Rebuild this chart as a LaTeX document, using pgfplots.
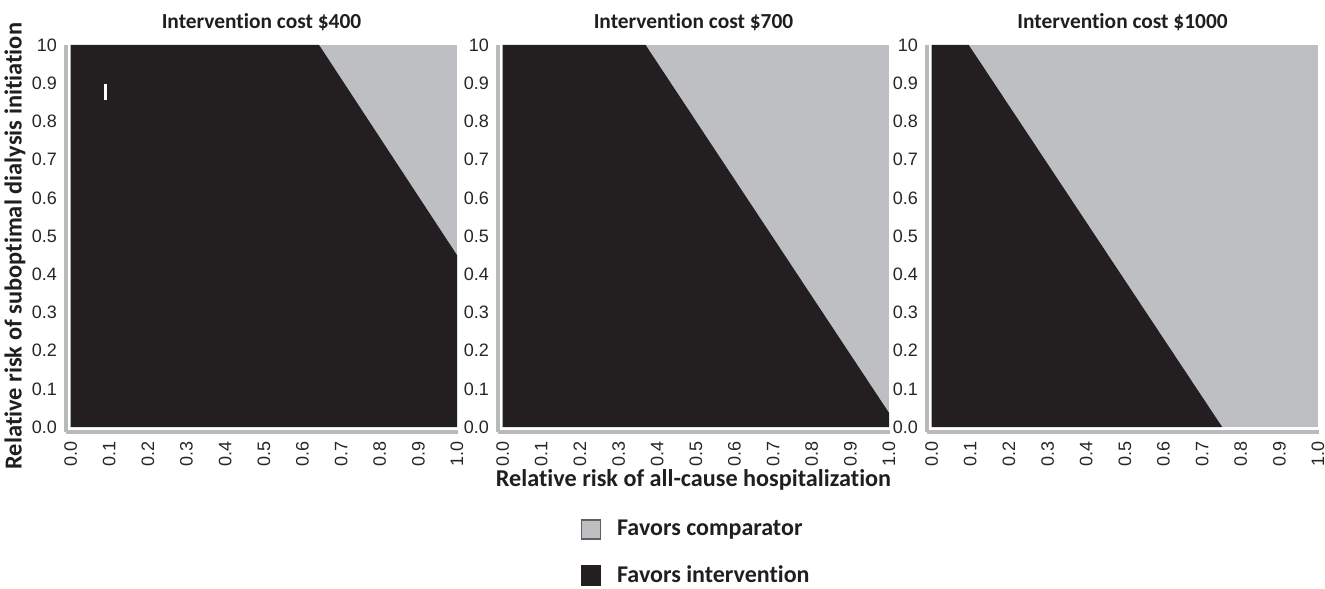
\documentclass[border=0pt]{standalone}
\usepackage{pgfplots}
\pgfplotsset{compat=1.18}
\usepackage{fontspec}
\setmainfont{Carlito}[Ligatures=NoCommon]
\newfontfamily\arialf{Liberation Sans}
\newcommand{\ti}{t\kern0pt i}
\definecolor{cgray}{RGB}{190,191,195}
\definecolor{cblack}{RGB}{35,31,32}
\definecolor{axgray}{RGB}{185,186,190}
\pgfplotsset{
 panel/.style={
  scale only axis, width=195.5pt, height=193.5pt,
  xmin=-0.012, xmax=1, ymin=-0.013, ymax=1,
  axis x line*=bottom, axis y line*=left,
  axis line style={axgray, line width=1.6pt},
  xtick={0,0.1,0.2,0.3,0.4,0.5,0.6,0.7,0.8,0.9,1.0},
  ytick={0,0.1,0.2,0.3,0.4,0.5,0.6,0.7,0.8,0.9,1.0},
  xticklabels={0.0,0.1,0.2,0.3,0.4,0.5,0.6,0.7,0.8,0.9,1.0},
  yticklabels={0.0,0.1,0.2,0.3,0.4,0.5,0.6,0.7,0.8,0.9,10},
  tick style={axgray, line width=0.4pt},
  major tick length=2pt,
  tick align=center,
  ticklabel style={font=\arialf\fontsize{9}{10}\selectfont, text=black!85},
  /pgf/number format/assume math mode=true,
  xticklabel style={rotate=90, anchor=east},
  title style={font=\bfseries\fontsize{10.7}{12}\selectfont, yshift=-2.5pt, text=black!88},
  clip=false,
 }
}
\begin{document}
\begin{tikzpicture}
\useasboundingbox (0,0) rectangle (662.5pt,294pt);
% Panel 1
\begin{axis}[panel, at={(33pt,78pt)}, anchor=south west,
  title={Interven\ti on cost \$400},
  ylabel={Rela\ti ve risk of subop\ti mal dialysis ini\ti a\ti on},
  ylabel style={font=\bfseries\fontsize{12.2}{14}\selectfont, text=black!88, at={(axis description cs:-0.1304,0.48)}, anchor=center}]
\addplot[fill=cgray, draw=none, forget plot] coordinates {(0,0) (1,0) (1,1) (0,1)} -- cycle;
\addplot[fill=cblack, draw=none, forget plot] coordinates {(0,0) (1,0) (1,0.45) (0.643,1) (0,1)} -- cycle;
\addplot[white, line width=1.3pt, forget plot] coordinates {(0.09,0.856) (0.09,0.898)};
\end{axis}
% Panel 2
\begin{axis}[panel, at={(249pt,78pt)}, anchor=south west,
  title={Interven\ti on cost \$700},
  xlabel={Rela\ti ve risk of all-cause hospitaliza\ti on},
  xlabel style={font=\bfseries\fontsize{12.1}{14}\selectfont, text=black!88, at={(axis description cs:0.5,-0.124)}, anchor=center},
  legend image code/.code={\draw[#1] (0pt,-4.75pt) rectangle (9.5pt,4.75pt);},
  legend style={at={(axis description cs:0.21,-0.216)}, anchor=north west, draw=none, fill=none,
    font=\bfseries\fontsize{12}{14}\selectfont, text=black!88, row sep=9.5pt, column sep=6pt, inner sep=0pt,
    nodes={inner sep=2pt}},
  legend cell align=left]
\addplot[fill=cgray, draw=none, forget plot] coordinates {(0,0) (1,0) (1,1) (0,1)} -- cycle;
\addplot[fill=cblack, draw=none, forget plot] coordinates {(0,0) (1,0) (1,0.037) (0.37,1) (0,1)} -- cycle;
\addlegendimage{fill=cgray, draw=gray!75!black, line width=0.8pt}
\addlegendentry{Favors comparator}
\addlegendimage{fill=cblack, draw=cblack, line width=0.8pt}
\addlegendentry{Favors interven\ti on}
\end{axis}
% Panel 3
\begin{axis}[panel, at={(463.5pt,78pt)}, anchor=south west,
  title={Interven\ti on cost \$1000}]
\addplot[fill=cgray, draw=none, forget plot] coordinates {(0,0) (1,0) (1,1) (0,1)} -- cycle;
\addplot[fill=cblack, draw=none, forget plot] coordinates {(0,0) (0.752,0) (0.096,1) (0,1)} -- cycle;
\end{axis}
\end{tikzpicture}
\end{document}
